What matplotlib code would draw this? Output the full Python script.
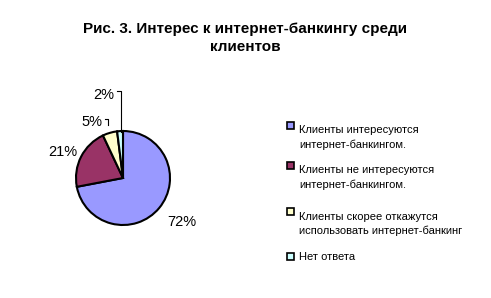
import matplotlib
matplotlib.use("Agg")
import matplotlib.pyplot as plt
from matplotlib.patches import Rectangle
import numpy as np

categories = ["Клиенты интересуются\nинтернет-банкингом.",
              "Клиенты не интересуются\nинтернет-банкингом.",
              "Клиенты скорее откажутся\nиспользовать интернет-банкинг",
              "Нет ответа"]
values = [72, 21, 5, 2]
pct_labels = ["72%", "21%", "5%", "2%"]
colors = ["#9999FF", "#993366", "#FFFFCC", "#CCFFFF"]
title = "Рис. 3. Интерес к интернет-банкингу среди\nклиентов"

plt.rcParams['font.family'] = ['Liberation Sans', 'DejaVu Sans']

W, H = 491, 298
fig = plt.figure(figsize=(W/100, H/100), dpi=100)
fig.patch.set_facecolor("white")

# pie axes: centre (123,178) px, radius 47 px
cx, cy, r = 123, 178, 47
half = 100
ax = fig.add_axes([(cx-half)/W, (H-cy-half)/H, 2*half/W, 2*half/H])
lim = half / r
ax.set_aspect('equal')
ax.axis('off')

wedges, _ = ax.pie(values, colors=colors, startangle=90, counterclock=False,
                   wedgeprops=dict(edgecolor='black', linewidth=1.5), radius=1,
                   center=(0, 0), frame=False)
ax.set_xlim(-lim, lim)
ax.set_ylim(-lim, lim)

# label positions (px offsets from centre)
label_pos = [(59, -44), (-60, 26), (-31, 56), (-19, 83)]
for lab, (dx, dy) in zip(pct_labels, label_pos):
    ax.text(dx/r, dy/r, lab, ha='center', va='center', fontsize=10.5, color='black')

# leader lines for small slices
ax.plot([(-31+13)/r, (-31+16)/r, (-31+16)/r], [(56+3)/r, (56+3)/r, (56-3)/r], color='black', lw=0.8)
ax.plot([(-19+13)/r, (-2)/r, (-2)/r], [(83+4)/r, (83+4)/r, 46/r], color='black', lw=0.8)

fig.text(245/W, 1 - 38/H, title, ha='center', va='center', fontsize=11,
         fontweight='bold', linespacing=1.35)

# legend
leg_y = [128, 168, 214, 259]
for lab, col, y in zip(categories, colors, leg_y):
    fig.patches.append(Rectangle(((287)/W, 1 - (y + 1)/H), 7/W, 7/H,
                                 transform=fig.transFigure, facecolor=col,
                                 edgecolor='black', linewidth=1.2))
    nlines = lab.count("\n") + 1
    fig.text(299/W, 1 - (y - 2.5)/H, lab, ha='left', va='top' if nlines > 1 else 'center',
             fontsize=8, linespacing=1.45, color='black')

fig.savefig("out.png", dpi=100, facecolor="white")
